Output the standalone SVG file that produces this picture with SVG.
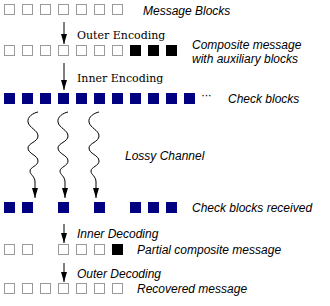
<svg xmlns="http://www.w3.org/2000/svg" width="330" height="306" viewBox="0 0 330 306">
<style>
.w{fill:#fff;stroke:#9a9a9a;stroke-width:1}
.b{fill:#000080}
.k{fill:#000}
.lab{font-family:"Liberation Sans",Arial,sans-serif;font-style:italic;font-size:12px;fill:#000}
.step{font-family:"DejaVu Serif",serif;font-size:11px;fill:#000}
.stepi{font-family:"Liberation Sans",Arial,sans-serif;font-style:italic;font-size:12px;fill:#000}
.arr{fill:none;stroke:#000;stroke-width:1;marker-end:url(#ah)}
</style>
<defs>
<marker id="ah" markerUnits="userSpaceOnUse" markerWidth="10" markerHeight="6" refX="10" refY="3" orient="auto">
<path d="M0,0 L10,3 L0,6 z" fill="#000"/>
</marker>
</defs>
<rect width="330" height="306" fill="#fff"/>

<g id="message-blocks">
<rect class="w" x="4.5" y="4.5" width="10" height="10"/>
<rect class="w" x="22.5" y="4.5" width="10" height="10"/>
<rect class="w" x="40.5" y="4.5" width="10" height="10"/>
<rect class="w" x="58.5" y="4.5" width="10" height="10"/>
<rect class="w" x="76.5" y="4.5" width="10" height="10"/>
<rect class="w" x="94.5" y="4.5" width="10" height="10"/>
<rect class="w" x="112.5" y="4.5" width="10" height="10"/>
<text class="lab" x="143" y="15">Message Blocks</text>
</g>

<g id="composite-message">
<rect class="w" x="4.5" y="45.5" width="10" height="10"/>
<rect class="w" x="22.5" y="45.5" width="10" height="10"/>
<rect class="w" x="40.5" y="45.5" width="10" height="10"/>
<rect class="w" x="58.5" y="45.5" width="10" height="10"/>
<rect class="w" x="76.5" y="45.5" width="10" height="10"/>
<rect class="w" x="94.5" y="45.5" width="10" height="10"/>
<rect class="w" x="112.5" y="45.5" width="10" height="10"/>
<rect class="k" x="130" y="45" width="11" height="11"/>
<rect class="k" x="148" y="45" width="11" height="11"/>
<rect class="k" x="166" y="45" width="11" height="11"/>
<text class="lab" x="192" y="48.5">Composite message</text>
<text class="lab" x="192" y="62.5">with auxiliary blocks</text>
</g>

<g id="check-blocks">
<rect class="b" x="4" y="93" width="11" height="11"/>
<rect class="b" x="22" y="93" width="11" height="11"/>
<rect class="b" x="40" y="93" width="11" height="11"/>
<rect class="b" x="58" y="93" width="11" height="11"/>
<rect class="b" x="76" y="93" width="11" height="11"/>
<rect class="b" x="94" y="93" width="11" height="11"/>
<rect class="b" x="112" y="93" width="11" height="11"/>
<rect class="b" x="130" y="93" width="11" height="11"/>
<rect class="b" x="148" y="93" width="11" height="11"/>
<rect class="b" x="166" y="93" width="11" height="11"/>
<rect class="b" x="184" y="93" width="11" height="11"/>
<text class="lab" x="201" y="99" style="font-style:normal;font-size:12px;letter-spacing:-0.6px">···</text>
<text class="lab" x="228" y="103">Check blocks</text>
</g>

<g id="lossy-channel">
<text class="lab" x="125" y="160">Lossy Channel</text>
</g>

<g id="check-blocks-received">
<rect class="b" x="4" y="202" width="11" height="11"/>
<rect class="b" x="22" y="202" width="11" height="11"/>
<rect class="b" x="58" y="202" width="11" height="11"/>
<rect class="b" x="94" y="202" width="11" height="11"/>
<rect class="b" x="130" y="202" width="11" height="11"/>
<rect class="b" x="148" y="202" width="11" height="11"/>
<rect class="b" x="166" y="202" width="11" height="11"/>
<text class="lab" x="192" y="212">Check blocks received</text>
</g>

<g id="partial-composite">
<rect class="w" x="4.5" y="244.5" width="10" height="10"/>
<rect class="w" x="22.5" y="244.5" width="10" height="10"/>
<rect class="w" x="58.5" y="244.5" width="10" height="10"/>
<rect class="w" x="76.5" y="244.5" width="10" height="10"/>
<rect class="w" x="94.5" y="244.5" width="10" height="10"/>
<rect class="k" x="112" y="244" width="11" height="11"/>
<text class="lab" x="137" y="254">Partial composite message</text>
</g>

<g id="recovered-message">
<rect class="w" x="4.5" y="283.5" width="10" height="10"/>
<rect class="w" x="22.5" y="283.5" width="10" height="10"/>
<rect class="w" x="40.5" y="283.5" width="10" height="10"/>
<rect class="w" x="58.5" y="283.5" width="10" height="10"/>
<rect class="w" x="76.5" y="283.5" width="10" height="10"/>
<rect class="w" x="94.5" y="283.5" width="10" height="10"/>
<rect class="w" x="112.5" y="283.5" width="10" height="10"/>
<text class="lab" x="137" y="293">Recovered message</text>
</g>

<g id="connectors">
<line class="arr" x1="64" y1="22" x2="64" y2="44"/>
<text class="step" x="77" y="39">Outer Encoding</text>
<line class="arr" x1="64" y1="63" x2="64" y2="90"/>
<text class="step" x="77" y="82">Inner Encoding</text>
<path class="arr" d="M38,112 C33,113 27,117 28,122 C29,128 38,130 38,136 C38,142 28,143 28,148 C28,154 38,155 38,161 C38,166 30,167 30,171 C30,175 35,176 35,182 L35,198"/>
<path class="arr" d="M68,112 C63,113 57,117 58,122 C59,128 68,130 68,136 C68,142 58,143 58,148 C58,154 68,155 68,161 C68,166 60,167 60,171 C60,175 65,176 65,182 L65,198"/>
<path class="arr" d="M99,112 C94,113 88,117 89,122 C90,128 99,130 99,136 C99,142 89,143 89,148 C89,154 99,155 99,161 C99,166 91,167 91,171 C91,175 96,176 96,182 L96,198"/>
<line class="arr" x1="64" y1="224" x2="64" y2="243"/>
<text class="stepi" x="77" y="238">Inner Decoding</text>
<line class="arr" x1="64" y1="263" x2="64" y2="282"/>
<text class="stepi" x="77" y="278">Outer Decoding</text>
</g>
</svg>
